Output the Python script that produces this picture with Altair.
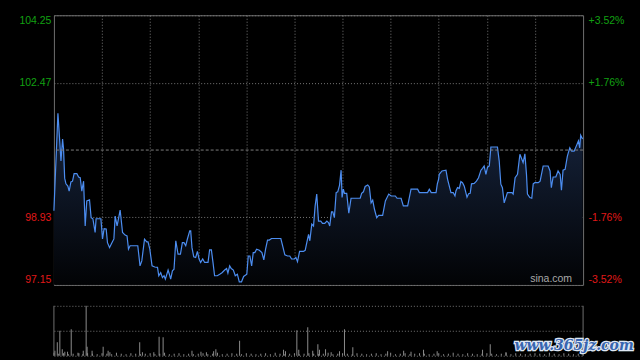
import altair as alt
import pandas as pd

# ---------------- data ----------------
times = [0, 2.5, 3.3, 4.4, 5.4, 6.0, 6.7, 7.5, 8.7, 9.5,
         10.6, 11.6, 12.6, 14.3, 15.4, 16.4, 17.4, 18.5, 19.5, 20.5,
         22.2, 23.2, 24.3, 25.7, 26.3, 29.3, 30.3, 31.3, 32.6, 33.4,
         34.7, 36.1, 37.4, 38.2, 39.4, 41.3, 42.8, 44.4, 45.6, 46.5,
         47.5, 52.3, 53.7, 54.8, 56.5, 57.9, 58.7, 59.8, 61.2, 62.9,
         64.6, 65.4, 66.6, 67.7, 68.7, 69.5, 71.2, 72.0, 72.8, 73.9,
         74.9, 76.0, 77.4, 78.9, 80.1, 81.1, 82.2, 83.2, 84.7, 85.3,
         86.1, 87.2, 88.4, 89.5, 90.5, 91.5, 92.8, 94.0, 96.1, 97.1,
         98.2, 99.2, 100.2, 101.9, 103.4, 104.8, 106.5, 107.7, 108.5, 109.6,
         110.6, 111.9, 113.1, 114.4, 115.6, 117.0, 118.3, 120.3, 121.2, 122.2,
         123.3, 124.3, 125.3, 126.4, 128.1, 129.7, 130.9, 132.0, 133.2, 134.3,
         135.7, 141.5, 142.6, 144.0, 145.7, 147.1, 148.2, 149.9, 150.9, 151.9,
         153.2, 155.6, 156.7, 157.7, 158.8, 159.6, 160.8, 161.9, 162.9, 163.9,
         165.0, 166.4, 167.5, 168.9, 170.2, 171.2, 172.0, 173.1, 173.9, 174.9,
         176.0, 177.0, 178.1, 179.1, 179.7, 180.5, 181.2, 182.6, 183.9, 185.3,
         191.0, 191.9, 193.0, 194.1, 195.7, 196.7, 197.8, 198.8, 199.9, 201.3,
         202.5, 205.0, 206.7, 208.8, 210.3, 212.9, 214.0, 216.5, 217.9, 220.6,
         222.7, 226.8, 227.9, 231.0, 233.0, 234.1, 235.3, 238.3, 239.1, 239.9,
         240.3, 242.0, 244.5, 245.5, 247.6, 249.0, 250.1, 250.7, 251.7, 252.8,
         253.8, 254.8, 255.9, 257.6, 258.6, 259.6, 260.4, 262.1, 263.5, 264.8,
         266.3, 267.3, 268.3, 269.4, 270.4, 271.5, 272.5, 276.6, 277.7, 278.7,
         279.7, 280.8, 282.8, 285.6, 286.4, 287.6, 289.1, 290.6, 291.8, 292.6,
         293.7, 294.7, 295.3, 296.8, 298.0, 298.9, 299.9, 302.0, 303.2, 305.1,
         308.2, 309.4, 310.2, 311.3, 313.0, 314.4, 315.7, 316.5, 317.5, 318.8,
         320.2, 321.7, 322.9, 324.4, 325.8, 327.1, 327.9, 328.5, 329.7]

prices = [99.10, 101.67, 101.15, 100.41, 100.99, 100.73, 99.96, 99.81, 99.75, 99.62,
          99.86, 99.88, 100.08, 100.08, 99.99, 99.97, 99.62, 99.88, 98.70, 99.36,
          99.39, 98.92, 98.89, 98.53, 98.89, 98.89, 98.36, 98.63, 98.62, 98.26,
          98.13, 98.25, 98.36, 98.96, 98.70, 99.12, 98.53, 98.46, 98.44, 98.09,
          98.18, 98.18, 97.65, 97.78, 98.35, 98.28, 98.28, 98.09, 97.65, 97.62,
          97.61, 97.39, 97.47, 97.34, 97.39, 97.30, 97.54, 97.43, 97.30, 97.52,
          97.56, 98.31, 97.96, 97.96, 98.26, 98.26, 98.18, 98.35, 98.57, 98.57,
          98.13, 97.89, 97.87, 98.03, 97.83, 97.74, 97.83, 97.74, 97.74, 98.07,
          98.07, 97.74, 97.39, 97.39, 97.43, 97.47, 97.54, 97.58, 97.46, 97.65,
          97.58, 97.54, 97.39, 97.43, 97.23, 97.23, 97.37, 97.43, 97.91, 97.91,
          97.65, 98.00, 98.00, 98.09, 98.06, 98.00, 97.81, 98.09, 98.33, 98.33,
          98.37, 98.37, 98.18, 97.94, 97.91, 97.91, 97.83, 97.83, 97.87, 97.76,
          98.03, 98.03, 98.06, 98.26, 98.48, 98.31, 98.75, 98.70, 99.23, 99.54,
          98.83, 98.83, 98.77, 98.77, 98.83, 98.79, 98.70, 99.07, 99.07, 98.92,
          99.58, 99.60, 99.77, 100.17, 99.45, 99.67, 99.56, 99.56, 99.04, 99.43,
          99.43, 99.56, 99.60, 99.74, 99.78, 99.73, 99.31, 99.38, 99.14, 98.92,
          98.98, 98.98, 99.36, 99.54, 99.49, 99.49, 99.43, 99.43, 99.23, 99.23,
          99.67, 99.67, 99.58, 99.58, 99.58, 99.67, 99.58, 99.58, 99.81, 99.93,
          100.06, 100.15, 100.17, 99.93, 99.58, 99.58, 99.49, 99.62, 99.71, 99.69,
          99.87, 99.84, 99.75, 99.46, 99.55, 99.56, 99.81, 99.82, 99.88, 99.97,
          100.17, 100.22, 100.28, 100.06, 100.25, 100.28, 100.78, 100.78, 100.41, 99.80,
          99.71, 99.31, 99.58, 99.58, 99.54, 99.97, 100.06, 100.59, 100.46, 100.37,
          100.60, 100.06, 99.54, 99.45, 99.43, 99.81, 99.84, 99.84, 99.88, 100.28,
          100.28, 100.15, 99.71, 99.99, 99.99, 100.15, 100.06, 99.64, 100.17, 100.19,
          100.54, 100.76, 100.67, 100.67, 100.81, 100.94, 100.76, 101.09, 100.99]

prev_close = 100.70
price_ticks = [97.15, 98.93, 100.70, 102.47, 104.25]
price_labels = ["97.15", "98.93", "", "102.47", "104.25"]
pct_labels = ["-3.52%", "-1.76%", "", "+1.76%", "+3.52%"]
time_grid = [30, 60, 90, 120, 150, 180, 210, 240, 270, 300]
session_end = 330

# small background volume, one bar every 3 minutes
base_vol_times = list(range(0, 331, 3))
base_vol = [6, 4, 5, 3, 4, 6, 3, 5, 4, 3, 5, 4, 3, 6, 4, 3, 5, 4, 3, 4,
            5, 3, 4, 6, 3, 4, 5, 3, 4, 3, 4, 5, 3, 4, 6, 3, 4, 5, 4, 3,
            5, 4, 3, 4, 5, 3, 6, 4, 3, 4, 5, 3, 4, 5, 4, 3, 4, 6, 3, 4,
            5, 4, 3, 5, 4, 3, 4, 5, 3, 4, 6, 3, 4, 5, 3, 4, 5, 4, 3, 4,
            5, 3, 4, 6, 4, 3, 5, 4, 3, 4, 5, 4, 3, 4, 6, 3, 5, 4, 3, 4,
            5, 4, 3, 6, 4, 3, 5, 4, 3, 4, 5]
spike_min = [0.6, 2.1, 3.7, 5.2, 6.8, 8.5, 10.8, 15.6, 18.3, 20.1,
             20.7, 23.8, 30.7, 33.8, 34.9, 53.5, 55.2, 62.3, 65.6, 68.1,
             86.1, 91.7, 95.1, 99.6, 101.0, 115.8, 143.2, 144.4, 151.5, 152.7,
             158.3, 161.4, 164.6, 165.6, 169.4, 172.9, 178.1, 181.2, 186.4, 208.1,
             218.1, 222.7, 230.5, 239.0, 267.3, 272.1, 281.9]
spike_vol = [10, 27, 50, 13, 8, 8, 53, 5, 10, 100,
             18, 10, 18, 10, 7, 27, 7, 7, 38, 37,
             10, 8, 7, 9, 13, 30, 12, 9, 51, 12,
             57, 10, 23, 12, 13, 7, 9, 53, 17, 9,
             10, 8, 12, 9, 12, 23, 7]
vol_max = 100

GREEN = "#12a012"
RED = "#e01818"
GRID = "#767676"
BORDER = "#6e6e6e"
LINE = "#4c8df0"
FONT = "Liberation Sans"

df = pd.DataFrame({"t": times, "p": prices})
vol_df = pd.DataFrame({"t": base_vol_times + spike_min, "v": base_vol + spike_vol})
one = pd.DataFrame({"a": [0]})

# ---------------- price panel ----------------
x_enc = alt.X("t:Q", scale=alt.Scale(domain=[0, session_end], nice=False, zero=False),
              axis=alt.Axis(values=time_grid, grid=True, gridColor=GRID, gridDash=[1, 2],
                            labels=False, ticks=False, domain=False, title=None))
y_scale = alt.Scale(domain=[price_ticks[0], price_ticks[-1]], nice=False, zero=False)

def label_expr(labels):
    expr = "''"
    for v, lab in zip(price_ticks, labels):
        expr = f"abs(datum.value - {v}) < 0.01 ? '{lab}' : ({expr})"
    return expr

left_axis = alt.Axis(values=price_ticks, grid=True, gridColor=GRID, gridDash=[1, 2],
                     gridOpacity=alt.condition(f"abs(datum.value - {prev_close}) < 0.01", alt.value(0), alt.value(1)),
                     labelExpr=label_expr(price_labels),
                     labelColor=alt.condition(f"datum.value > {prev_close}", alt.value(GREEN), alt.value(RED)),
                     labelFlush=True, labelFont=FONT, labelFontSize=10.5, labelPadding=3,
                     ticks=False, domain=False, title=None)
right_axis = alt.Axis(values=price_ticks, orient="right", grid=False,
                      labelExpr=label_expr(pct_labels),
                      labelColor=alt.condition(f"datum.value > {prev_close}", alt.value(GREEN), alt.value(RED)),
                      labelFlush=True, labelFont=FONT, labelFontSize=10.5, labelPadding=5,
                      ticks=False, domain=False, title=None)

gradient = alt.Gradient(gradient="linear",
                        stops=[alt.GradientStop(color="#17253f", offset=0),
                               alt.GradientStop(color="#020305", offset=1)],
                        x1=1, x2=1, y1=0, y2=1)

area = alt.Chart(df).mark_area(color=gradient).encode(
    x=x_enc, y=alt.Y("p:Q", scale=y_scale, axis=left_axis), y2=alt.datum(price_ticks[0]))
line = alt.Chart(df).mark_line(color=LINE, strokeWidth=1.2).encode(
    x=x_enc, y=alt.Y("p:Q", scale=y_scale))
prev_rule = alt.Chart(one).mark_rule(color="#7c7c7c", strokeDash=[3, 2], strokeWidth=1).encode(
    y=alt.datum(prev_close))
sina = alt.Chart(one).mark_text(text="sina.com", color="#a8a8a8", font=FONT, fontSize=10.5,
                                align="center", baseline="middle").encode(
    x=alt.value(498), y=alt.value(264))

inner = alt.layer(area, line, prev_rule, sina)
right = alt.Chart(df).mark_line(opacity=0).encode(
    x=x_enc, y=alt.Y("p:Q", scale=y_scale, axis=right_axis))

price_panel = alt.layer(inner, right).resolve_scale(y="independent").properties(
    width=530, height=270, view=alt.ViewBackground(stroke=BORDER, strokeWidth=1))

# ---------------- volume panel ----------------
vx = alt.X("t:Q", scale=alt.Scale(domain=[0, session_end], nice=False, zero=False), axis=None)
bars = alt.Chart(vol_df).mark_rule(color="#8c8c8c", strokeWidth=1).encode(
    x=vx,
    y=alt.Y("v:Q", scale=alt.Scale(domain=[0, vol_max], nice=False),
            axis=alt.Axis(values=[0, vol_max / 2, vol_max], grid=True, gridColor=GRID, gridDash=[1, 2],
                          labels=False, ticks=False, domain=False, title=None)),
    y2=alt.datum(0))
sides = alt.Chart(pd.DataFrame({"t": [0, session_end]})).mark_rule(color=BORDER, strokeWidth=1).encode(
    x=vx, y=alt.value(0), y2=alt.value(50))
wm_outline = alt.Chart(one).mark_text(
    text="www.365jz.com", font="DejaVu Serif", fontSize=14, fontWeight="bold", fontStyle="italic",
    color="#3765b0", stroke="#dfe7f3", strokeWidth=2.5, align="center", baseline="middle").encode(
    x=alt.value(521), y=alt.value(40))
wm_fill = alt.Chart(one).mark_text(
    text="www.365jz.com", font="DejaVu Serif", fontSize=14, fontWeight="bold", fontStyle="italic",
    color="#3765b0", align="center", baseline="middle").encode(
    x=alt.value(521), y=alt.value(40))

vol_panel = alt.layer(bars, sides, wm_outline, wm_fill).properties(
    width=530, height=50, view=alt.ViewBackground(stroke="transparent"))

chart = alt.vconcat(price_panel, vol_panel, spacing=21).properties(
    bounds="flush",
    padding={"left": 18, "top": 14, "right": 5, "bottom": 5},
).configure(background="#000000")

chart.save("out.html", embed_options={"renderer": "svg", "actions": False})
